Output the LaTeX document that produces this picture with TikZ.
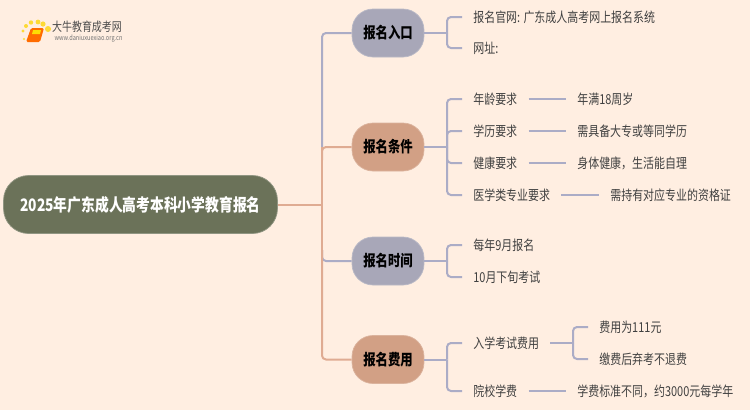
\documentclass[tikz,border=0pt]{standalone}
\usepackage{fontspec}
\setmainfont[FakeStretch=0.8]{Noto Sans CJK SC}
\definecolor{fondo}{HTML}{FFEEE1}
\definecolor{raizc}{HTML}{6B7259}
\definecolor{lila}{HTML}{A8A7B8}
\definecolor{cobre}{HTML}{D2A085}
\definecolor{lineaLila}{HTML}{ABACC6}
\definecolor{lineaCobre}{HTML}{DFAB92}
\tikzset{
  ramaLila/.style={draw=lila!80!white,fill=lila,rounded corners=.42cm,minimum width=1.44cm,minimum height=.96cm,
    font=\fontsize{8.8}{10}\selectfont\bfseries,text=black,inner sep=0pt},
  ramaCobre/.style={ramaLila,draw=cobre!80!white,fill=cobre},
  hoja/.style={anchor=west,font=\fontsize{7.8}{9}\selectfont,text=black!75,inner xsep=.22cm,inner ysep=1pt},
  conLila/.style={draw=lineaLila,line width=.4mm,rounded corners=.08cm},
  conCobre/.style={draw=lineaCobre,line width=.4mm,rounded corners=.08cm}
}
\begin{document}
\begin{tikzpicture}[x=.02cm,y=-.02cm]
%%%%%%%% FONDO
\fill[fondo] (0,0) rectangle (750,410);
\useasboundingbox (0,0) rectangle (750,410);

%%%%%%%% LOGO
\foreach \px/\py/\pr in {24/39/1.2,23/31/1.6,26/26/2,31/22.5/2.2,38/22/2.4,43/24/2.6,48/29/3}
  \fill[yellow!70!orange!80] (\px,\py) circle ({\pr*.02cm});
\fill[orange!85!red,rounded corners=.03cm] (31,28) -- (44,28) -- (40,42) -- (26,42) -- cycle;
\fill[yellow!80!orange] (33,30) -- (41,30) -- (40,34) -- (32,34) -- cycle;
\node[font=\fontsize{7.1}{8}\selectfont,text=black!70,inner sep=0pt] (marca) at (87,27) {大牛教育成考网};
\node[font=\fontsize{4}{5}\selectfont,text=black!55,inner sep=0pt] (web) at (88.5,39) {www.daniuxuexiao.org.cn};

%%%%%%%% RAIZ
\node[draw=raizc!75!white,fill=raizc,rounded corners=.5cm,minimum width=5.48cm,minimum height=1.16cm,
  font=\fontsize{9.8}{12}\selectfont\bfseries,text=white,inner sep=0pt] (raiz) at (140.5,204.5)
  {2025年广东成人高考本科小学教育报名};

%%%%%%%% RAMAS
\node[ramaLila] (entrada) at (388,33) {报名入口};
\node[ramaCobre] (condicion) at (388,147) {报名条件};
\node[ramaLila] (tiempo) at (388,261) {报名时间};
\node[ramaCobre] (costo) at (388,359.5) {报名费用};

%%%%%%%% HOJAS
\node[hoja] (oficial) at (462,17) {报名官网: 广东成人高考网上报名系统};
\node[hoja] (sitio) at (462,48) {网址:};

\node[hoja] (edad) at (462,99) {年龄要求};
\node[hoja] (edadR) at (566,99) {年满18周岁};
\node[hoja] (estudios) at (462,131) {学历要求};
\node[hoja] (estudiosR) at (566,131) {需具备大专或等同学历};
\node[hoja] (salud) at (462,163) {健康要求};
\node[hoja] (saludR) at (566,163) {身体健康，生活能自理};
\node[hoja] (medico) at (462,195) {医学类专业要求};
\node[hoja] (medicoR) at (599,195) {需持有对应专业的资格证};

\node[hoja] (mes) at (462,245) {每年9月报名};
\node[hoja] (examen) at (462,277) {10月下旬考试};

\node[hoja] (ingreso) at (462,343) {入学考试费用};
\node[hoja] (monto) at (588,327) {费用为111元};
\node[hoja] (baja) at (588,359) {缴费后弃考不退费};
\node[hoja] (escuela) at (462,391) {院校学费};
\node[hoja] (escuelaR) at (566,391) {学费标准不同，约3000元每学年};

%%%%%%%% CRUCES
\coordinate (tronco) at (322,204.5);
\coordinate (cruceEntrada) at (447,33);
\coordinate (cruceCondicion) at (447,147);
\coordinate (cruceTiempo) at (447,261);
\coordinate (cruceCosto) at (447,359.5);
\coordinate (cruceIngreso) at (573,343);

%%%%%%%% TRONCO
\draw[conLila] (322,147) |- (entrada.west);
\draw[conLila] (322,250) |- (tiempo.west);
\draw[conCobre] (322,147) -- (322,260);
\draw[conCobre] (322,160) |- (condicion.west);
\draw[conCobre] (322,250) |- (costo.west);
\draw[conCobre] (raiz.east) -- (tronco);

%%%%%%%% CONECTORES
\draw[conLila] (entrada.east) -- (cruceEntrada);
\draw[conLila] (condicion.east) -- (cruceCondicion);
\draw[conLila] (tiempo.east) -- (cruceTiempo);
\draw[conLila] (costo.east) -- (cruceCosto);
\draw[conLila] (ingreso.east) -- (cruceIngreso);
\foreach \hoja in {oficial,sitio}
  \draw[conLila] (cruceEntrada) |- (\hoja.west);
\foreach \hoja in {edad,estudios,salud,medico}
  \draw[conLila] (cruceCondicion) |- (\hoja.west);
\foreach \hoja in {mes,examen}
  \draw[conLila] (cruceTiempo) |- (\hoja.west);
\foreach \hoja in {ingreso,escuela}
  \draw[conLila] (cruceCosto) |- (\hoja.west);
\foreach \resp in {monto,baja}
  \draw[conLila] (cruceIngreso) |- (\resp.west);
\foreach \hoja/\resp in {edad/edadR,estudios/estudiosR,salud/saludR,medico/medicoR,escuela/escuelaR}
  \draw[conLila] (\hoja.east) -- (\resp.west);

\end{tikzpicture}
\end{document}
